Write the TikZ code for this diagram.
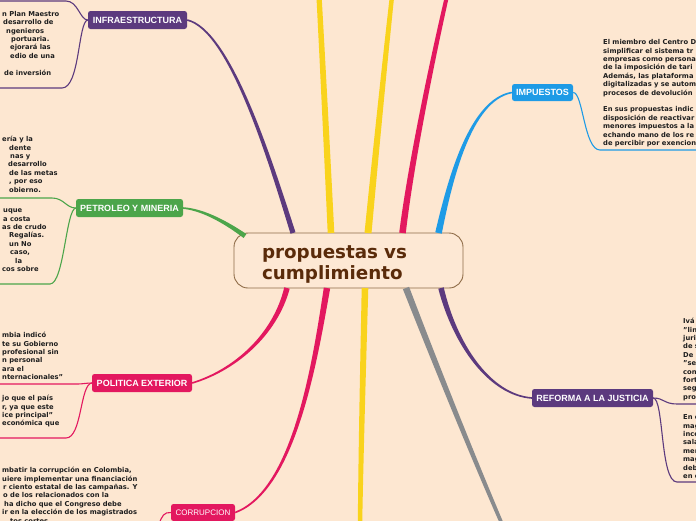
\documentclass[tikz,border=0pt]{standalone}
\usepackage{fontspec}
\setmainfont{DejaVu Sans}
\newfontfamily\lsans{Liberation Sans}
\usetikzlibrary{calc}
\definecolor{bgc}{HTML}{FDE7D1}
\definecolor{cenfill}{HTML}{FDE8D4}
\definecolor{cpurple}{HTML}{5C3A7E}
\definecolor{cgreen}{HTML}{4CA54A}
\definecolor{ccrim}{HTML}{E3185F}
\definecolor{cyel}{HTML}{F9D31C}
\definecolor{cblue}{HTML}{1E9BE6}
\definecolor{cgray}{HTML}{898B8D}
\definecolor{cbrown}{HTML}{8E6B47}
\definecolor{ctitle}{HTML}{5A2B0A}
\definecolor{ctext}{HTML}{1E1E1E}
\newcommand\myst{\rule{0pt}{6pt}}
% tapered main branch: color, start, c1, c2, end, start half width, end half width
\newcommand\mbranch[7]{%
 \path ($(#2)!#6!90:(#3)$) coordinate (bA) ($(#2)!#6!-90:(#3)$) coordinate (bB)
       ($(#5)!#7!-90:(#4)$) coordinate (eA) ($(#5)!#7!90:(#4)$) coordinate (eB);
 \fill[#1] (bA) .. controls ($(#3)+0.67*(bA)-0.67*(#2)+0.33*(eA)-0.33*(#5)$) and ($(#4)+0.33*(bA)-0.33*(#2)+0.67*(eA)-0.67*(#5)$) .. (eA) -- (eB) .. controls ($(#4)+0.33*(bB)-0.33*(#2)+0.67*(eB)-0.67*(#5)$) and ($(#3)+0.67*(bB)-0.67*(#2)+0.33*(eB)-0.33*(#5)$) .. (bB) -- cycle;
}
\tikzset{
 topic/.style={rounded corners=2.5pt, minimum height=18pt, inner sep=0pt, text=white, font=\lsans\bfseries\fontsize{9}{10}\selectfont},
 sub/.style={anchor=north west, inner sep=0pt, align=left, text=ctext, font=\bfseries\fontsize{6.75}{8.4}\selectfont},
 link/.style={line width=1.1pt},
}
\begin{document}
\begin{tikzpicture}[x=1pt,y=-1pt]
\useasboundingbox (0,0) rectangle (696,520);
\clip (0,0) rectangle (696,520);
\fill[bgc] (-5,-5) rectangle (701,525);

% central topic
\node[draw=cbrown, line width=0.9pt, fill=cenfill, rounded corners=14pt, minimum width=229pt, minimum height=55pt, inner xsep=28pt, inner ysep=0pt, text width=173pt, align=left, font=\bfseries\fontsize{18.3}{21}\selectfont, text=ctitle] (cen) at (348.5,260.5) {\rule{0pt}{20pt}propuestas vs\\cumplimiento};

% main topics
\node[topic, fill=cpurple, minimum width=99pt] (infra) at (137.5,20) {INFRAESTRUCTURA};
\node[topic, fill=cgreen, minimum width=107pt] (petro) at (129.5,208) {PETROLEO Y MINERIA};
\node[topic, fill=ccrim, minimum width=100pt] (pol) at (142,383) {POLITICA EXTERIOR};
\node[topic, fill=ccrim, minimum width=64pt, minimum height=17pt, font=\lsans\fontsize{8}{9}\selectfont] (cor) at (203,512.5) {CORRUPCION};
\node[topic, fill=cblue, minimum width=61pt, minimum height=17pt] (imp) at (542.5,92.5) {IMPUESTOS};
\node[topic, fill=cpurple, minimum width=121pt] (ref) at (592.5,398) {REFORMA A LA JUSTICIA};

% sub texts
\node[sub] (ta) at (0,10) {\myst\hspace*{2pt}n Plan Maestro\\\hspace*{3pt}desarrollo de\\\hspace*{6pt}ngenieros\\\hspace*{11pt}portuaria.\\\hspace*{10pt}ejorará las\\\hspace*{10pt}edio de una\\\mbox{}\\\hspace*{4pt}de inversión};
\node[sub] (tb) at (0,135.5) {\myst\hspace*{2pt}ería y la\\\hspace*{9pt}dente\\\hspace*{10pt}nas y\\\hspace*{8pt}desarrollo\\\hspace*{9pt}de las metas\\\hspace*{9pt}, por eso\\\hspace*{9pt}obierno.};
\node[sub] (tc) at (0,206.5) {\myst\hspace*{3pt}uque\\\hspace*{3pt}a costa\\\hspace*{2pt}as de crudo\\\hspace*{9pt}Regalías.\\\hspace*{9pt}un No\\\hspace*{10pt}caso,\\\hspace*{15pt}la\\\hspace*{2pt}cos sobre};
\node[sub] (td) at (0,331.5) {\myst\hspace*{2pt}mbia indicó\\\hspace*{2pt}te su Gobierno\\\hspace*{2pt}profesional sin\\\hspace*{2pt}n personal\\\hspace*{2pt}ara el\\\hspace*{2pt}nternacionales”};
\node[sub] (te) at (0,394.5) {\myst\hspace*{2pt}jo que el país\\\hspace*{2pt}r, ya que este\\\hspace*{2pt}ice principal”\\\hspace*{2pt}económica que};
\node[sub] (tf) at (0,466.5) {\myst\hspace*{2pt}mbatir la corrupción en Colombia,\\\hspace*{2pt}uiere implementar una financiación\\\hspace*{3pt}r ciento estatal de las campañas. Y\\\hspace*{3pt}o de los relacionados con la\\\hspace*{4pt}ha dicho que el Congreso debe\\\hspace*{2pt}ir en la elección de los magistrados\\\hspace*{10pt}tos cortes};
\node[sub] (tg) at (603,38.5) {\myst El miembro del Centro D\\simplificar el sistema tr\\empresas como persona\\de la imposición de tari\\Además, las plataforma\\digitalizadas y se autom\\procesos de devolución\\\mbox{}\\En sus propuestas indic\\disposición de reactivar\\menores impuestos a la\\echando mano de los re\\de percibir por exencion};
\node[sub] (th) at (683,317.5) {\myst Ivá\\"lin\\juri\\de s\\De \\"se\\con\\fort\\seg\\pro};
\node[sub] (ti) at (683,413.5) {\myst En e\\mag\\ince\\sala\\mer\\mag\\deb\\en e};

% branch coordinates
\coordinate (s1) at (293,233);
\coordinate (s2) at (331,233);  \coordinate (e2) at (319,-4);
\coordinate (s3) at (368,233);  \coordinate (e3) at (392,-4);
\coordinate (s4) at (402.5,233); \coordinate (e4) at (447,-4);
\coordinate (s5) at (438.5,233);
\coordinate (s6) at (245,236);
\coordinate (s7) at (287,288);
\coordinate (s8) at (327,288);
\coordinate (s9) at (365,288);  \coordinate (e9) at (360,524);
\coordinate (s10) at (406,288); \coordinate (e10) at (502,524);
\coordinate (s11) at (441,288);

\mbranch{cpurple}{s1}{270,160}{230,30}{infra.east}{2.6pt}{0.8pt}
\mbranch{cyel}{s2}{327,150}{323,70}{e2}{3.3pt}{2.6pt}
\mbranch{cyel}{s3}{376,150}{384,70}{e3}{3.5pt}{2.2pt}
\mbranch{ccrim}{s4}{410,170}{430,70}{e4}{3.3pt}{2pt}
\mbranch{cblue}{s5}{450,180}{470,100}{imp.west}{3.3pt}{0.8pt}
\mbranch{cgreen}{s6}{228,224}{205,210}{petro.east}{2.4pt}{0.8pt}
\mbranch{ccrim}{s7}{275,335}{235,370}{pol.east}{2.8pt}{0.8pt}
\mbranch{ccrim}{s8}{315,360}{295,490}{cor.east}{3.2pt}{0.8pt}
\mbranch{cyel}{s9}{363,370}{361,450}{e9}{3.3pt}{2.2pt}
\mbranch{cgray}{s10}{430,350}{470,450}{e10}{3.3pt}{1.8pt}
\mbranch{cpurple}{s11}{455,345}{490,395}{ref.west}{2.8pt}{0.8pt}

% free ends of sub connectors
\coordinate (fa1) at (-2,1);   \coordinate (fa2) at (-2,88);
\coordinate (fb1) at (-2,198); \coordinate (fb2) at (-2,284);
\coordinate (fc1) at (-2,384); \coordinate (fc2) at (-2,438);
\coordinate (fd1) at (159,524);
\coordinate (fe1) at (698,150);
\coordinate (ff1) at (698,404); \coordinate (ff2) at (698,482);

\draw[link, cpurple] (infra.west) .. controls (80,20) and (78,1) .. (66,1) -- (fa1);
\draw[link, cpurple] (infra.west) .. controls (78,21) and (80,88) .. (62,88) -- (fa2);
\draw[link, cgreen] (petro.west) .. controls (66,208) and (64,198) .. (52,198) -- (fb1);
\draw[link, cgreen] (petro.west) .. controls (66,209) and (64,284) .. (50,284) -- (fb2);
\draw[link, ccrim] (pol.west) .. controls (86,383) and (84,384) .. (76,384) -- (fc1);
\draw[link, ccrim] (pol.west) .. controls (80,384) and (82,438) .. (66,438) -- (fc2);
\draw[link, ccrim] (cor.west) .. controls (164,512) and (162,516) .. (fd1);
\draw[link, cblue] (imp.east) .. controls (583,92) and (584,150) .. (600,150) -- (fe1);
\draw[link, cpurple] (ref.east) .. controls (664,398) and (664,404) .. (677,404) -- (ff1);
\draw[link, cpurple] (ref.east) .. controls (664,398) and (660,482) .. (677,482) -- (ff2);
\end{tikzpicture}
\end{document}
